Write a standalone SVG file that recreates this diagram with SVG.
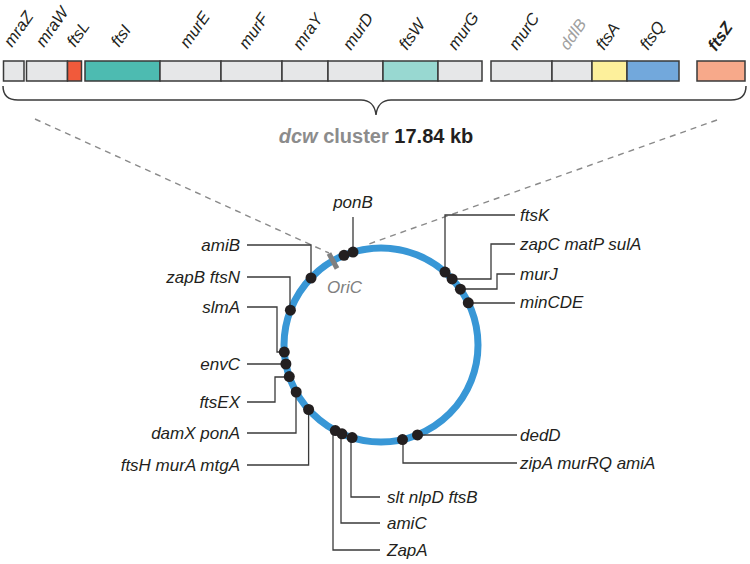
<svg xmlns="http://www.w3.org/2000/svg" width="750" height="564" viewBox="0 0 750 564">
<style>
.g{stroke:#3a3a3a;stroke-width:1.5}
.grey{fill:#e6e7e8}
.gl{font-family:"Liberation Sans",Arial,sans-serif;font-style:italic;font-size:16.5px;fill:#231f20}
.lb{font-family:"Liberation Sans",Arial,sans-serif;font-style:italic;font-size:17px;fill:#231f20}
.c{fill:none;stroke:#3a3a3a;stroke-width:1.3}
.dash{fill:none;stroke:#8a8a8a;stroke-width:1.4;stroke-dasharray:6 5}
.dot{fill:#231f20}
</style>
<rect width="750" height="564" fill="#fff"/>
<g id="genes">
<rect class="g grey" x="3.5" y="61" width="20.5" height="20"/>
<rect class="g grey" x="26.5" y="61" width="41" height="20"/>
<rect class="g" x="67.5" y="61" width="14" height="20" fill="#f15a3b"/>
<rect class="g" x="85" y="61" width="75" height="20" fill="#4dbbb1"/>
<rect class="g grey" x="160" y="61" width="61" height="20"/>
<rect class="g grey" x="221" y="61" width="61" height="20"/>
<rect class="g grey" x="282" y="61" width="46" height="20"/>
<rect class="g grey" x="328" y="61" width="55" height="20"/>
<rect class="g" x="383" y="61" width="55" height="20" fill="#98d8d1"/>
<rect class="g grey" x="438" y="61" width="44" height="20"/>
<rect class="g grey" x="491" y="61" width="61" height="20"/>
<rect class="g grey" x="552" y="61" width="40" height="20"/>
<rect class="g" x="592" y="61" width="35" height="20" fill="#fdf09b"/>
<rect class="g" x="627" y="61" width="52" height="20" fill="#72a8dc"/>
<rect class="g" x="697" y="61" width="48" height="20" fill="#f7a98a"/>
</g>
<g id="gene-labels">
<text class="gl" transform="translate(12,48) rotate(-55)">mraZ</text>
<text class="gl" transform="translate(44,48) rotate(-55)">mraW</text>
<text class="gl" transform="translate(75,48) rotate(-55)">ftsL</text>
<text class="gl" transform="translate(119,48) rotate(-55)">ftsI</text>
<text class="gl" transform="translate(188,49) rotate(-55)">murE</text>
<text class="gl" transform="translate(247,50) rotate(-55)">murF</text>
<text class="gl" transform="translate(301,51) rotate(-55)">mraY</text>
<text class="gl" transform="translate(351,51) rotate(-55)">murD</text>
<text class="gl" transform="translate(407,51) rotate(-55)">ftsW</text>
<text class="gl" transform="translate(456,51) rotate(-55)">murG</text>
<text class="gl" transform="translate(517,51) rotate(-55)">murC</text>
<text class="gl" transform="translate(568,51) rotate(-55)" style="fill:#a0a0a0">ddlB</text>
<text class="gl" transform="translate(604,51) rotate(-55)">ftsA</text>
<text class="gl" transform="translate(648,51) rotate(-55)">ftsQ</text>
<text class="gl" transform="translate(716,52) rotate(-55)" font-weight="bold">ftsZ</text>
</g>
<g id="brace">
<path d="M3,86 C3,96 8,100 18,100 H361 C369,100 375,105 376,115 C377,105 383,100 391,100 H731 C741,100 746,96 746,86" fill="none" stroke="#3a3a3a" stroke-width="1.5"/>
<text x="376" y="143" text-anchor="middle" font-family="'Liberation Sans',Arial,sans-serif" font-weight="bold" font-size="20"><tspan fill="#8c8c8c" font-style="italic">dcw</tspan><tspan fill="#8c8c8c"> cluster</tspan><tspan fill="#231f20"> 17.84 kb</tspan></text>
</g>
<g id="zoom-lines">
<path class="dash" d="M35,119 L329,253"/>
<path class="dash" d="M717,120 L366,245"/>
</g>
<g id="chromosome">
<circle cx="381" cy="345" r="97" fill="none" stroke="#3897d6" stroke-width="7"/>
<rect x="-2.5" y="-8.5" width="5" height="17" fill="#808080" transform="translate(333,261) rotate(-28.4)"/>
<text class="lb" x="327" y="293" style="fill:#808080">OriC</text>
</g>
<g id="connectors">
<path class="c" d="M353,217 V252"/>
<path class="c" d="M247,245 H311 V278"/>
<path class="c" d="M247,277 H290 V310"/>
<path class="c" d="M247,307 H277 V352 H284"/>
<path class="c" d="M247,364 H286"/>
<path class="c" d="M247,402 H275 V377 H289"/>
<path class="c" d="M247,433 H296 V392"/>
<path class="c" d="M247,465 H308.6 V409.5"/>
<path class="c" d="M333,431 V550 H380"/>
<path class="c" d="M341,434 V523 H380"/>
<path class="c" d="M351,438 V497 H380"/>
<path class="c" d="M417,435 H517"/>
<path class="c" d="M403,440 V463 H517"/>
<path class="c" d="M445,272 V215 H515"/>
<path class="c" d="M452,279 H491 V244 H515"/>
<path class="c" d="M460,289 H497 V274 H515"/>
<path class="c" d="M468,303 H515"/>
</g>
<g id="ponB"><circle class="dot" cx="344" cy="255.3" r="5.5"/><circle class="dot" cx="353" cy="252.1" r="5.5"/><text class="lb" x="353" y="208" text-anchor="middle">ponB</text></g>
<g id="amiB"><circle class="dot" cx="311" cy="278" r="5.5"/><text class="lb" x="240" y="251" text-anchor="end">amiB</text></g>
<g id="zapB"><circle class="dot" cx="290.4" cy="310.2" r="5.5"/><text class="lb" x="240" y="283" text-anchor="end">zapB ftsN</text></g>
<g id="slmA"><circle class="dot" cx="284.3" cy="352.1" r="5.5"/><text class="lb" x="240" y="313" text-anchor="end">slmA</text></g>
<g id="envC"><circle class="dot" cx="285.9" cy="364" r="5.5"/><text class="lb" x="240" y="370" text-anchor="end">envC</text></g>
<g id="ftsEX"><circle class="dot" cx="289.3" cy="376.6" r="5.5"/><text class="lb" x="240" y="408" text-anchor="end">ftsEX</text></g>
<g id="damX"><circle class="dot" cx="296.2" cy="392" r="5.5"/><text class="lb" x="240" y="439" text-anchor="end">damX ponA</text></g>
<g id="ftsH"><circle class="dot" cx="308.6" cy="409.5" r="5.5"/><text class="lb" x="240" y="471" text-anchor="end">ftsH murA mtgA</text></g>
<g id="ZapA"><circle class="dot" cx="335.3" cy="430.6" r="5.5"/><text class="lb" x="387" y="556">ZapA</text></g>
<g id="amiC"><circle class="dot" cx="342" cy="433.8" r="5.5"/><text class="lb" x="387" y="529">amiC</text></g>
<g id="slt"><circle class="dot" cx="352.1" cy="437.6" r="5.5"/><text class="lb" x="387" y="503">slt nlpD ftsB</text></g>
<g id="zipA"><circle class="dot" cx="402.5" cy="439.6" r="5.5"/><text class="lb" x="520" y="469">zipA murRQ amiA</text></g>
<g id="dedD"><circle class="dot" cx="417.5" cy="434.9" r="5.5"/><text class="lb" x="520" y="441">dedD</text></g>
<g id="minCDE"><circle class="dot" cx="468.3" cy="302.8" r="5.5"/><text class="lb" x="520" y="308">minCDE</text></g>
<g id="murJ"><circle class="dot" cx="460.4" cy="289.2" r="5.5"/><text class="lb" x="520" y="280">murJ</text></g>
<g id="zapC"><circle class="dot" cx="452.1" cy="278.9" r="5.5"/><text class="lb" x="520" y="250">zapC matP sulA</text></g>
<g id="ftsK"><circle class="dot" cx="445" cy="272.1" r="5.5"/><text class="lb" x="520" y="221">ftsK</text></g>
</svg>
